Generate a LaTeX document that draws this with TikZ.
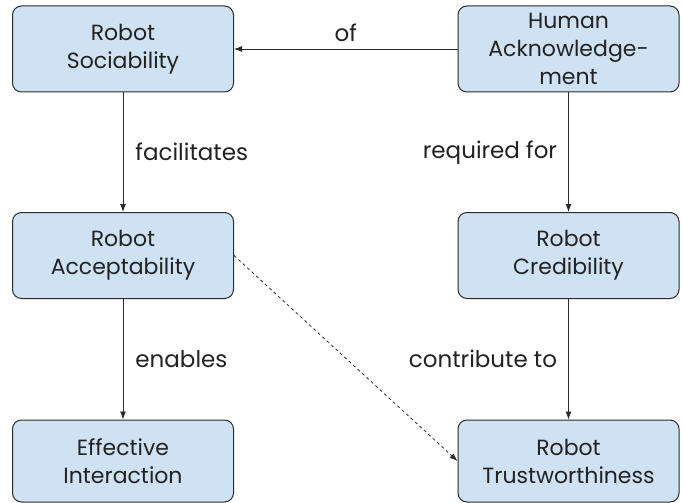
\documentclass[tikz,border=0pt]{standalone}
\usepackage{fontspec}
\setmainfont{Poppins}
\usetikzlibrary{arrows.meta}
\definecolor{boxfill}{HTML}{CFE2F3}
\definecolor{boxline}{HTML}{2B2B2B}
\definecolor{txt}{HTML}{222222}
\begin{document}
\begin{tikzpicture}[x=1pt, y=-1pt,
        concept/.style={draw=boxline, fill=boxfill, line width=1pt, rounded corners=9pt,
            minimum width=221pt, minimum height=86pt, align=center, text=txt,
            font=\fontsize{22}{28}\selectfont},
        lbl/.style={text=txt, font=\fontsize{23}{26}\selectfont, inner sep=0pt},
        link/.style={line width=0.9pt, draw=boxline, -{Latex[length=8pt, width=6pt]}}]
        \useasboundingbox (0,0) rectangle (683,503);

        \node[concept] (soc) at (123, 49) {Robot\\Sociability};
        \node[concept] (ack) at (568.5, 49) {Human\\Acknowledge-\\ment};
        \node[concept] (acc) at (123, 255.5) {Robot\\Acceptability};
        \node[concept] (cred) at (568.5, 255.5) {Robot\\Credibility};
        \node[concept, minimum height=82pt] (eff) at (123, 461) {Effective\\Interaction};
        \node[concept, minimum height=82pt] (trust) at (568.5, 461) {Robot\\Trustworthiness};

        \draw[link] (ack) -- (soc) node[lbl, midway, above=7pt] (lof) {of};
        \draw[link] (soc) -- (acc) node[lbl, pos=0.5, right=12pt] (lfac) {facilitates};
        \draw[link] (ack) -- (cred) node[lbl, pos=0.5, left=11pt] (lreq) {required for};
        \draw[link] (acc) -- (eff) node[lbl, pos=0.5, right=12pt] (lena) {enables};
        \draw[link] (cred) -- (trust) node[lbl, pos=0.5, left=11pt] (lcon) {contribute to};
        \draw[link, dashed, line width=0.8pt] (acc.east) -- (trust.west);
    \end{tikzpicture}
\end{document}
